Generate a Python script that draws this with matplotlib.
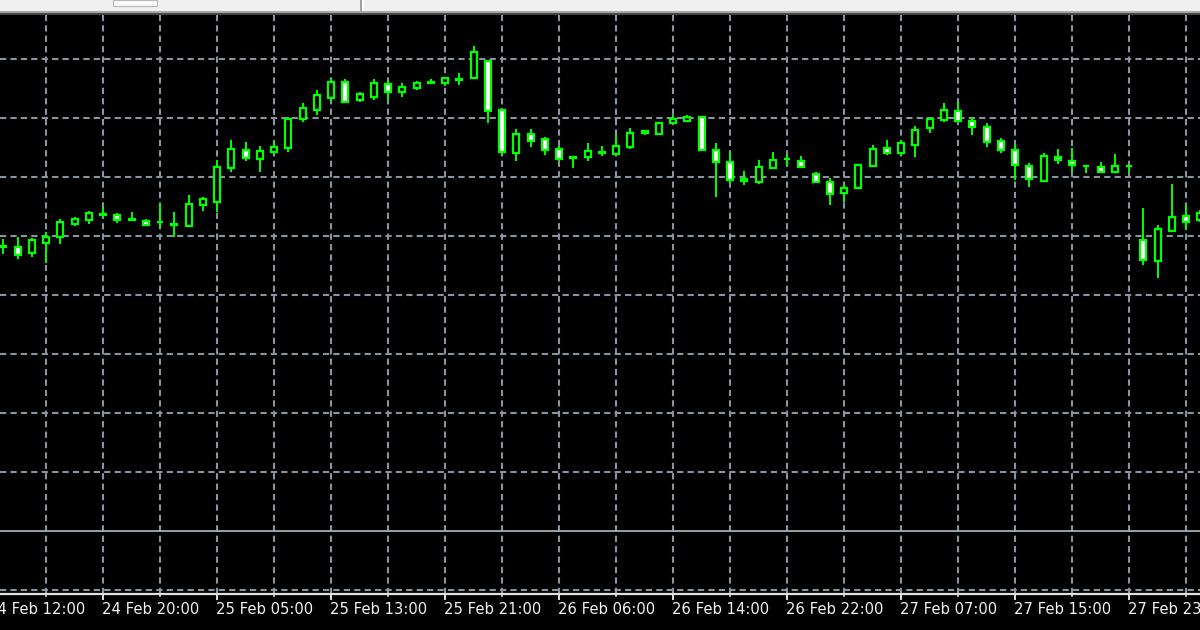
import matplotlib
matplotlib.use('Agg')
import matplotlib.pyplot as plt
from matplotlib.patches import Rectangle

# hourly bars, left to right (price scale hidden in the reference)
opens = [150.581, 150.581, 150.571, 150.588, 150.598, 150.620, 150.627, 150.636, 150.636, 150.629,
         150.625, 150.624, 150.620, 150.617, 150.653, 150.658, 150.715, 150.746, 150.731, 150.742,
         150.749, 150.798, 150.814, 150.834, 150.861, 150.831, 150.836, 150.858, 150.844, 150.851,
         150.859, 150.859, 150.866, 150.868, 150.897, 150.814, 150.741, 150.773, 150.764, 150.747,
         150.734, 150.734, 150.742, 150.739, 150.751, 150.775, 150.773, 150.792, 150.795, 150.802,
         150.746, 150.725, 150.697, 150.692, 150.715, 150.731, 150.727, 150.705, 150.692, 150.673,
         150.681, 150.719, 150.749, 150.741, 150.754, 150.783, 150.797, 150.812, 150.795, 150.785,
         150.761, 150.746, 150.719, 150.693, 150.734, 150.727, 150.719, 150.717, 150.708, 150.718,
         150.593, 150.558, 150.608, 150.634, 150.627]
highs = [150.595, 150.598, 150.597, 150.607, 150.629, 150.632, 150.642, 150.649, 150.639, 150.641,
         150.629, 150.654, 150.641, 150.669, 150.666, 150.729, 150.763, 150.759, 150.753, 150.759,
         150.802, 150.825, 150.847, 150.868, 150.866, 150.844, 150.866, 150.864, 150.859, 150.863,
         150.866, 150.869, 150.876, 150.922, 150.898, 150.817, 150.781, 150.781, 150.768, 150.753,
         150.736, 150.758, 150.753, 150.771, 150.783, 150.780, 150.793, 150.805, 150.805, 150.803,
         150.758, 150.742, 150.710, 150.729, 150.742, 150.737, 150.736, 150.708, 150.698, 150.688,
         150.722, 150.754, 150.763, 150.763, 150.786, 150.800, 150.825, 150.827, 150.802, 150.792,
         150.766, 150.756, 150.724, 150.741, 150.747, 150.749, 150.720, 150.725, 150.739, 150.720,
         150.647, 150.619, 150.688, 150.653, 150.644]
lows = [150.569, 150.561, 150.564, 150.554, 150.586, 150.617, 150.620, 150.632, 150.622, 150.625,
        150.617, 150.615, 150.598, 150.615, 150.642, 150.641, 150.708, 150.727, 150.708, 150.739,
        150.742, 150.793, 150.805, 150.829, 150.825, 150.827, 150.831, 150.831, 150.836, 150.847,
        150.858, 150.854, 150.856, 150.866, 150.792, 150.737, 150.727, 150.751, 150.737, 150.727,
        150.715, 150.727, 150.736, 150.737, 150.747, 150.771, 150.771, 150.790, 150.793, 150.744,
        150.666, 150.690, 150.686, 150.688, 150.714, 150.719, 150.715, 150.690, 150.653, 150.658,
        150.679, 150.717, 150.737, 150.736, 150.734, 150.775, 150.793, 150.793, 150.771, 150.751,
        150.741, 150.695, 150.683, 150.692, 150.722, 150.708, 150.707, 150.707, 150.707, 150.707,
        150.551, 150.529, 150.607, 150.610, 150.624]
closes = [150.583, 150.568, 150.593, 150.598, 150.624, 150.629, 150.639, 150.637, 150.627, 150.627,
          150.619, 150.623, 150.619, 150.654, 150.663, 150.717, 150.747, 150.732, 150.744, 150.751,
          150.798, 150.817, 150.839, 150.861, 150.827, 150.841, 150.859, 150.844, 150.853, 150.859,
          150.861, 150.868, 150.865, 150.912, 150.812, 150.742, 150.773, 150.761, 150.746, 150.731,
          150.733, 150.744, 150.741, 150.753, 150.775, 150.778, 150.792, 150.798, 150.802, 150.746,
          150.725, 150.695, 150.693, 150.717, 150.729, 150.730, 150.717, 150.692, 150.671, 150.681,
          150.720, 150.747, 150.741, 150.758, 150.780, 150.798, 150.814, 150.795, 150.785, 150.759,
          150.746, 150.720, 150.697, 150.736, 150.729, 150.720, 150.718, 150.708, 150.719, 150.719,
          150.559, 150.612, 150.632, 150.624, 150.639]

time_labels = ['24 Feb 12:00', '24 Feb 20:00', '25 Feb 05:00', '25 Feb 13:00', '25 Feb 21:00',
               '26 Feb 06:00', '26 Feb 14:00', '26 Feb 22:00', '27 Feb 07:00', '27 Feb 15:00',
               '27 Feb 23:00']
label_bars = [-1, 7, 15, 23, 31, 39, 47, 55, 63, 71, 79]
price_levels = [150.0, 150.1, 150.2, 150.3, 150.4, 150.5, 150.6, 150.7, 150.8, 150.9]
hline_level = 150.1

GREEN = '#00ff00'
GRID = '#8a949e'
W, H = 1200, 630

plt.rcParams['lines.scale_dashes'] = False
fig = plt.figure(figsize=(12, 6.3), dpi=100, facecolor='black')
ax = fig.add_axes([0, (H - 594) / H, 1, (594 - 15) / H])
ax.set_facecolor('black')
ax.set_xlim(-0.2316, 83.98)
ax.set_ylim(151 - 594 / 590, 151 - 15 / 590)
for s in ['top', 'left', 'right']:
    ax.spines[s].set_visible(False)
ax.spines['bottom'].set_color('#e0e0e0')
ax.spines['bottom'].set_linewidth(1.6)
ax.set_xticks([])
ax.set_yticks([])

# dashed grid
for p in price_levels:
    if p == hline_level:
        continue
    ax.axhline(p, color=GRID, lw=1.5, dashes=(4.5, 3), zorder=1)
for g in range(3, 85, 4):
    ax.axvline(g, color=GRID, lw=1.5, dashes=(4.5, 3), zorder=1)
# solid horizontal line object
ax.axhline(hline_level, color='#a4acb4', lw=1.3, zorder=1)

# candles
body_w = 0.42
for i in range(len(opens)):
    o, h, l, c = opens[i], highs[i], lows[i], closes[i]
    ax.plot([i, i], [l, h], color=GREEN, lw=1.4, solid_capstyle='butt', zorder=2)
    face = 'black' if c > o else 'white'
    ax.add_patch(Rectangle((i - body_w / 2, min(o, c)), body_w, abs(c - o),
                           facecolor=face, edgecolor=GREEN, lw=1.6, zorder=3))

# time axis labels and ticks
tr = ax.get_xaxis_transform()
ax_h = 594 - 15
for g in range(3, 85, 4):
    ax.plot([g, g], [0, -2 / ax_h], color='#e0e0e0', lw=1.2, transform=tr, clip_on=False)
for b, lab in zip(label_bars, time_labels):
    ax.plot([b, b], [0, -5 / ax_h], color='#e0e0e0', lw=1.4, transform=tr, clip_on=False)
    ax.annotate(lab, xy=(b, 0), xycoords=tr, xytext=(-1.5, -16), textcoords='offset pixels',
                ha='left', va='center', color='#f4f4f4', fontsize=10.6,
                family='DejaVu Sans', annotation_clip=False)

# window toolbar strip at the top
fig.add_artist(Rectangle((0, 1 - 11 / H), 1, 11 / H, transform=fig.transFigure,
                         facecolor='#f0f0f0', edgecolor='none'))
fig.add_artist(Rectangle((0, 1 - 12.5 / H), 1, 1.5 / H, transform=fig.transFigure,
                         facecolor='#a8a8a8', edgecolor='none'))
fig.add_artist(Rectangle((0, 1 - 15 / H), 1, 2.5 / H, transform=fig.transFigure,
                         facecolor='#474747', edgecolor='none'))
fig.add_artist(Rectangle((113 / W, 1 - 6 / H), 44 / W, 6 / H, transform=fig.transFigure,
                         facecolor='#fafafa', edgecolor='#b8b8b8', lw=0.8))
fig.add_artist(Rectangle((360 / W, 1 - 11 / H), 2 / W, 11 / H, transform=fig.transFigure,
                         facecolor='#a0a0a0', edgecolor='none'))
fig.add_artist(Rectangle((362 / W, 1 - 11 / H), 1.5 / W, 11 / H, transform=fig.transFigure,
                         facecolor='#ffffff', edgecolor='none'))

fig.savefig('out.png', dpi=100, facecolor='black')
